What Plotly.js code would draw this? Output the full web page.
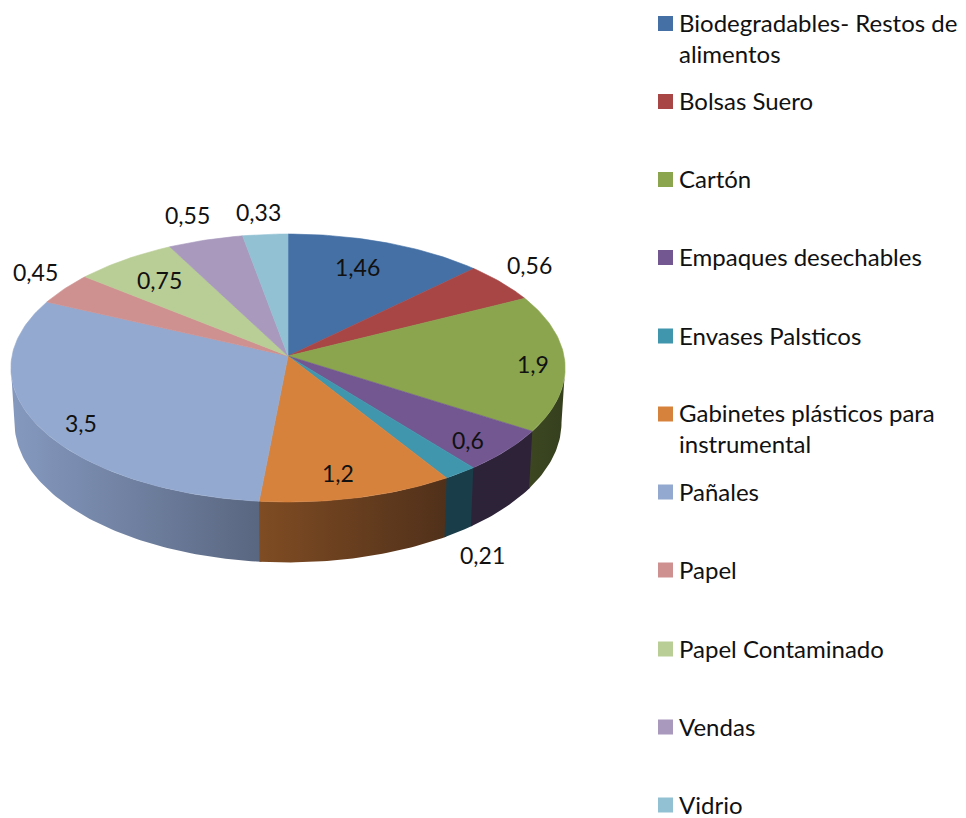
<!DOCTYPE html>
<html>
<head>
<meta charset="utf-8">
<script src="https://cdn.plot.ly/plotly-3.0.1.min.js"></script>
<style>html,body{margin:0;padding:0;background:#fff}#chart{width:966px;height:818px}</style>
</head>
<body>
<div id="chart"></div>
<script>
const categories = ["Biodegradables- Restos de<br>alimentos","Bolsas Suero","Cartón","Empaques desechables","Envases Palsticos","Gabinetes plásticos para<br>instrumental","Pañales","Papel","Papel Contaminado","Vendas","Vidrio"];
const values = [1.46,0.56,1.9,0.6,0.21,1.2,3.5,0.45,0.75,0.55,0.33];
const colors = ["#4570a5","#a84646","#8aa54e","#725791","#4096ad","#d6823c","#94a9cf","#cf9190","#b9cd96","#a899bd","#92c1d3"];
const wallStart = [null,null,"#3c4721","#2d2339","#1a3d4a","#7f4c23",'#8599bf',null,null,null,null];
const wallEnd   = [null,null,"#353f1e","#2d2238","#1a3d4a","#50301a",'#596680',null,null,null,null];
const labelX = [357,529,533,468,482,338,81,35,159,187,258];
const labelY = [267,265,364,440,555,473,423,272,280,215,212];
const legendRowY = [23.5,101.5,179.5,257.5,336,414,492,570,649,727,805];
const FONT = "Lato, 'Open Sans', sans-serif";

// perspective projection of the pie disc onto the page
const cx=288, cy=356, a=276, b=132.9, k=0.0896, depth=54, wallScaleX=0.987, wallScaleY=1.044;
const frontFrom=95.14, frontTo=264.86; // silhouette of the disc: the wall is only seen between these
const seamOverlap=0.4; // degrees each wall tucks under its neighbour, to avoid a light seam
function rim(deg, bottom){
  const t=deg*Math.PI/180, X=Math.sin(t), Y=Math.cos(t), w=1+k*Y;
  return bottom ? [cx+wallScaleX*a*X/w, cy+depth-wallScaleY*b*Y/w] : [cx+a*X/w, cy-b*Y/w];
}
function arc(from,to,bottom){
  const pts=[], n=Math.max(2,Math.ceil(Math.abs(to-from)));
  for(let i=0;i<=n;i++) pts.push(rim(from+(to-from)*i/n,bottom));
  return pts;
}
const total=values.reduce((p,c)=>p+c,0);
const wallTraces=[], faceTraces=[];
let acc=0;
values.forEach((v,i)=>{
  const t0=acc/total*360; acc+=v; const t1=acc/total*360;
  const name=categories[i].replace('<br>',' ');
  if(wallStart[i]){
    const w0=Math.max(t0-seamOverlap,frontFrom), w1=Math.min(t1,frontTo);
    const pts=arc(w0,w1,false).concat(arc(w1,w0,true));
    pts.push(pts[0]);
    wallTraces.unshift({type:'scatter',mode:'lines',name:name+' (lateral)',x:pts.map(p=>p[0]),y:pts.map(p=>p[1]),
      fill:'toself',line:{width:0},fillcolor:wallEnd[i],
      fillgradient:{type:'horizontal',colorscale:[[0,wallStart[i]],[1,wallEnd[i]]]},hoverinfo:'skip'});
  }
  const pts=[[cx,cy]].concat(arc(t0,t1,false)); pts.push([cx,cy]);
  faceTraces.push({type:'scatter',mode:'lines',name:name,x:pts.map(p=>p[0]),y:pts.map(p=>p[1]),
    fill:'toself',fillcolor:colors[i],line:{width:0.6,color:colors[i]},text:String(v),hoverinfo:'name+text'});
});
const legendSwatches={type:'scatter',mode:'markers',x:categories.map(()=>665.5),y:legendRowY,
  marker:{symbol:'square',size:15,color:colors,line:{width:0}},hoverinfo:'skip'};

const annotations=[];
values.forEach((v,i)=>annotations.push({x:labelX[i],y:labelY[i],xref:'x',yref:'y',text:String(v).replace('.',','),
  showarrow:false,xanchor:'center',yanchor:'middle',font:{family:FONT,size:23,color:'#111'}}));
categories.forEach((c,i)=>annotations.push({x:676.5,y:legendRowY[i],xref:'x',yref:'y',text:c,showarrow:false,
  xanchor:'left',yanchor:c.includes('<br>')?'top':'middle',yshift:c.includes('<br>')?18:1,align:'left',
  font:{family:FONT,size:24,color:'#111'}}));

Plotly.newPlot('chart',wallTraces.concat(faceTraces,[legendSwatches]),{
  width:966,height:818,margin:{l:0,r:0,t:0,b:0},showlegend:false,
  paper_bgcolor:'#fff',plot_bgcolor:'#fff',
  xaxis:{range:[0,966],visible:false,fixedrange:true},
  yaxis:{range:[818,0],visible:false,fixedrange:true},
  annotations:annotations
},{staticPlot:true,displayModeBar:false});
</script>
</body>
</html>
